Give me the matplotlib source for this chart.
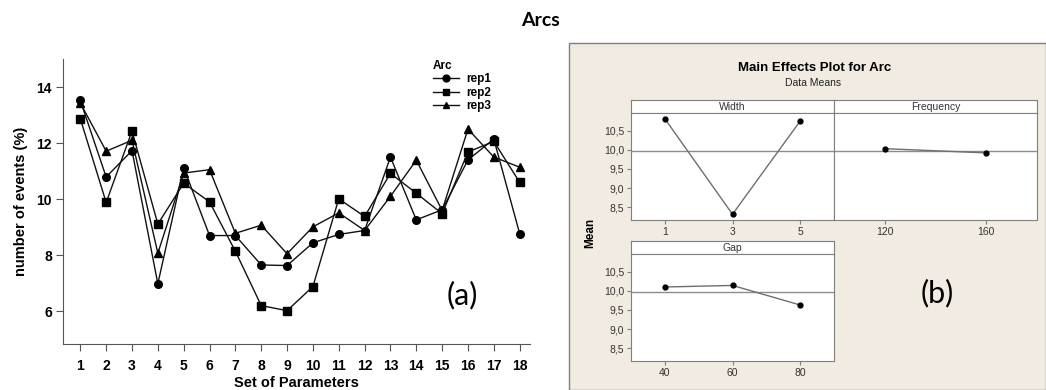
import numpy as np
from matplotlib import pyplot as plt
from matplotlib.patches import Rectangle

# (a) number of events per set of parameters, three replicates
sets = list(range(1, 19))
rep1 = [13.52, 10.79, 11.73, 6.98, 11.12, 8.70, 8.70, 7.65, 7.63, 8.44, 8.74, 8.88, 11.50, 9.26, 9.62, 11.40, 12.14, 8.77]
rep2 = [12.87, 9.88, 12.43, 9.11, 10.57, 9.90, 8.14, 6.20, 6.02, 6.88, 10.01, 9.38, 10.92, 10.21, 9.48, 11.68, 12.06, 10.60]
rep3 = [13.43, 11.71, 12.10, 8.07, 10.93, 11.05, 8.78, 9.07, 8.05, 9.01, 9.51, 8.88, 10.10, 11.39, 9.60, 12.50, 11.50, 11.14]

# (b) main effects (data means)
width_levels = ['1', '3', '5']
width_means = [10.81, 8.32, 10.75]
freq_levels = ['120', '160']
freq_means = [10.03, 9.92]
gap_levels = ['40', '60', '80']
gap_means = [10.10, 10.14, 9.63]
grand_mean = 9.97
mean_ticks = [8.5, 9.0, 9.5, 10.0, 10.5]
mean_ticklabels = ['8,5', '9,0', '9,5', '10,0', '10,5']

W, H = 1046, 390
fig = plt.figure(figsize=(W / 100, H / 100), dpi=100)


def fx(px):
    return px / W


def fy(py):
    return 1 - py / H


fig.text(fx(540), fy(20), 'Arcs', family='Lato', weight='bold', fontsize=14,
         ha='center', va='center')

# ---------- left chart ----------
ax = fig.add_axes([fx(63), fy(344), fx(530) - fx(63), fy(59) - fy(344)])
bold = dict(family='Liberation Sans', weight='bold')
ax.plot(sets, rep1, color='#111111', lw=1, marker='o', ms=5.5, mfc='black', mec='black', label='rep1')
ax.plot(sets, rep2, color='#111111', lw=1, marker='s', ms=5.5, mfc='black', mec='black', label='rep2')
ax.plot(sets, rep3, color='#111111', lw=1, marker='^', ms=5.5, mfc='black', mec='black', label='rep3')
ax.set_xlim(0.33, 18.4)
ax.set_ylim(4.83, 15.0)
ax.set_xticks(sets)
ax.set_yticks([6, 8, 10, 12, 14])
for s in ['top', 'right']:
    ax.spines[s].set_visible(False)
for s in ['left', 'bottom']:
    ax.spines[s].set_color('#555555')
ax.tick_params(direction='out', length=5, color='#555555')
ax.tick_params(axis='x', pad=6)
ax.tick_params(axis='y', pad=3)
for lab in ax.get_xticklabels() + ax.get_yticklabels():
    lab.set_fontproperties('Liberation Sans')
    lab.set_fontweight('bold')
    lab.set_fontsize(10)
ax.set_xlabel('Set of Parameters', fontsize=10.5, labelpad=2, **bold)
ax.set_ylabel('number of events (%)', fontsize=10.5, labelpad=6, **bold)
leg = ax.legend(title='Arc', loc='upper left', bbox_to_anchor=(fx(427), fy(54)),
                bbox_transform=fig.transFigure, frameon=False, alignment='left',
                prop={'family': 'Liberation Sans', 'weight': 'bold', 'size': 8.5},
                title_fontproperties={'family': 'Liberation Sans', 'weight': 'bold', 'size': 8.5},
                handlelength=2.2, handletextpad=0.6, labelspacing=0.12, borderpad=0,
                markerscale=0.9)
fig.text(fx(462), fy(295), '(a)', family='Lato', fontsize=22, ha='center', va='center')

# ---------- right chart (Minitab style) ----------
fig.patches.append(Rectangle((fx(569), 0), 1 - fx(569), fy(43), transform=fig.transFigure,
                             facecolor='#f1ebe1', edgecolor='#7f7f7f', lw=1, zorder=-5))
fig.text(fx(815), fy(68), 'Main Effects Plot for Arc', family='Liberation Sans', weight='bold',
         fontsize=9.5, ha='center', va='center')
fig.text(fx(813), fy(83), 'Data Means', family='Liberation Sans', fontsize=7.5, ha='center',
         va='center', color='#222222')
fig.text(fx(590), fy(233), 'Mean', family='Liberation Sans', weight='bold', fontsize=8.5,
         rotation=90, ha='center', va='center')

small = dict(family='Liberation Sans', fontsize=7.5)


def effect_panel(left, top, levels, means, name, show_y):
    # header strip
    hx = fig.add_axes([fx(left), fy(top + 13), fx(203), 13 / H])
    hx.set_xticks([])
    hx.set_yticks([])
    hx.set_facecolor('white')
    for s in hx.spines.values():
        s.set_color('#7f7f7f')
    hx.text(0.5, 0.45, name, transform=hx.transAxes, ha='center', va='center',
            color='#333333', **small)
    # data area
    pa = fig.add_axes([fx(left), fy(top + 120), fx(203), 107 / H])
    x = np.arange(1, len(levels) + 1)
    pa.axhline(grand_mean, color='#8c8c8c', lw=1, zorder=1)
    pa.plot(x, means, color='#6e6e6e', lw=1, zorder=2)
    pa.plot(x, means, ls='none', marker='o', ms=3.5, color='black', zorder=3)
    pa.set_xlim(0.5, len(levels) + 0.5)
    pa.set_ylim(8.17, 10.96)
    pa.set_xticks(x, levels)
    for s in pa.spines.values():
        s.set_color('#7f7f7f')
    pa.tick_params(direction='out', length=3, color='#7f7f7f', pad=2)
    if show_y:
        pa.set_yticks(mean_ticks, mean_ticklabels)
    else:
        pa.set_yticks([])
    for lab in pa.get_xticklabels() + pa.get_yticklabels():
        lab.set_fontproperties('Liberation Sans')
        lab.set_fontsize(7.5)
        lab.set_color('#333333')
    return pa


effect_panel(631, 100, width_levels, width_means, 'Width', True)
effect_panel(834, 100, freq_levels, freq_means, 'Frequency', False)
effect_panel(631, 241, gap_levels, gap_means, 'Gap', True)

fig.text(fx(937), fy(293), '(b)', family='Lato', fontsize=22, ha='center', va='center')

fig.savefig('out.png', dpi=100)
